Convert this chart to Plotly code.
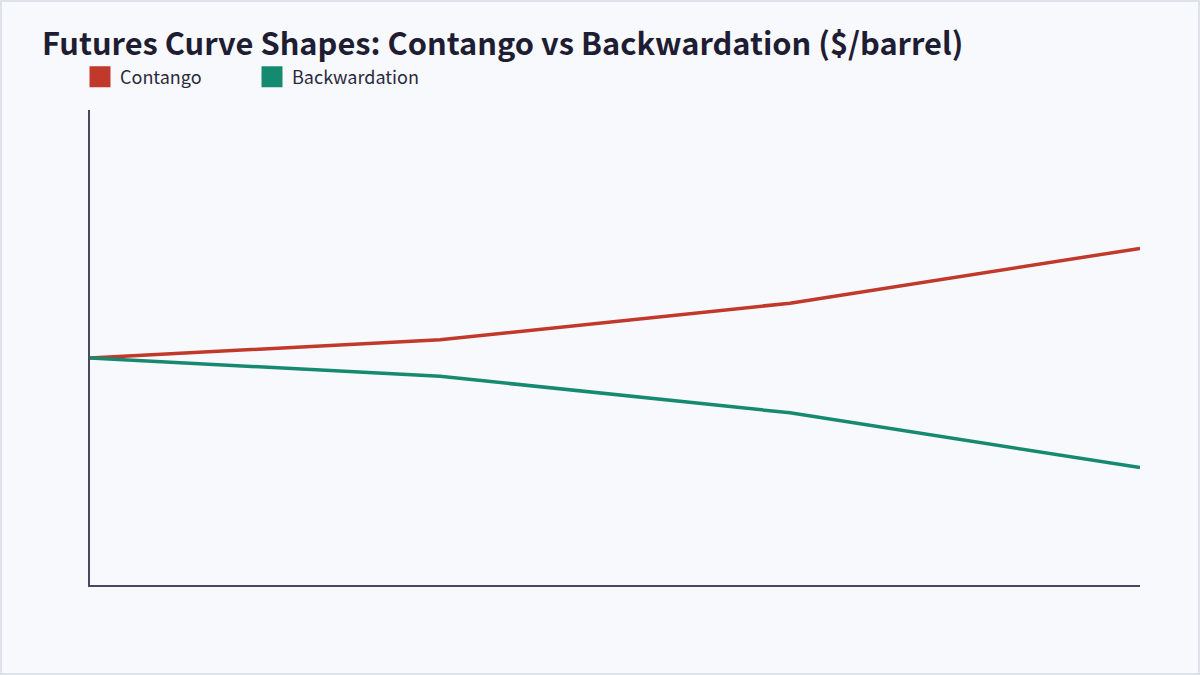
import plotly.graph_objects as go

tenors = ["Spot", "3M", "6M", "12M"]
contango = [75, 77, 81, 87]
backwardation = [75, 73, 69, 63]

RED = "#c0392b"
GREEN = "#168a70"
FONT = "Noto Sans CJK KR"

fig = go.Figure()
fig.add_trace(go.Scatter(x=tenors, y=contango, mode="lines", name="Contango",
                         line=dict(color=RED, width=3.5), showlegend=False))
fig.add_trace(go.Scatter(x=tenors, y=backwardation, mode="lines", name="Backwardation",
                         line=dict(color=GREEN, width=3.5), showlegend=False))
# legend entries (square swatches)
fig.add_trace(go.Scatter(x=[None], y=[None], mode="markers", name="Contango",
                         marker=dict(symbol="square", size=16, color=RED,
                                     line=dict(color=RED, width=5))))
fig.add_trace(go.Scatter(x=[None], y=[None], mode="markers", name="Backwardation",
                         marker=dict(symbol="square", size=16, color=GREEN,
                                     line=dict(color=GREEN, width=5))))

W, H = 1200, 675
L, R, T, B = 90, 60, 110, 90
pw, ph = W - L - R, H - T - B

fig.update_layout(
    width=W, height=H,
    margin=dict(l=L, r=R, t=T, b=B),
    paper_bgcolor="#f8f9fc",
    plot_bgcolor="#f8f9fc",
    font=dict(family=FONT, color="#1e1d33"),
    title=dict(text="<b>Futures Curve Shapes: Contango vs Backwardation ($/barrel)</b>",
               x=42 / W, xanchor="left", xref="container",
               y=1 - 44 / H, yanchor="middle", yref="container",
               font=dict(size=30.8, color="#1e1d33", family=FONT)),
    showlegend=True,
    legend=dict(orientation="h", x=(80 - L) / pw, xanchor="left",
                y=1 + (T - 77) / ph, yanchor="middle",
                font=dict(size=18, color="#2a2a3e", family=FONT),
                entrywidth=127, entrywidthmode="pixels",
                bgcolor="rgba(0,0,0,0)", itemclick=False),
    xaxis=dict(type="category", range=[0, 3], showgrid=False, zeroline=False,
               showticklabels=False, ticks="", showline=True,
               linecolor="#4a4763", linewidth=2),
    yaxis=dict(range=[50.15, 102.15], showgrid=False, zeroline=False,
               showticklabels=False, ticks="", showline=True,
               linecolor="#4a4763", linewidth=2),
    shapes=[dict(type="rect", xref="paper", yref="paper",
                 x0=-L / pw, x1=1 + R / pw, y0=-B / ph, y1=1 + T / ph,
                 line=dict(color="#dde3ea", width=4), layer="above")],
)

fig.write_html("out.html", config={"displayModeBar": False},
               post_script="document.body.style.margin='0';document.body.style.overflow='hidden';")
